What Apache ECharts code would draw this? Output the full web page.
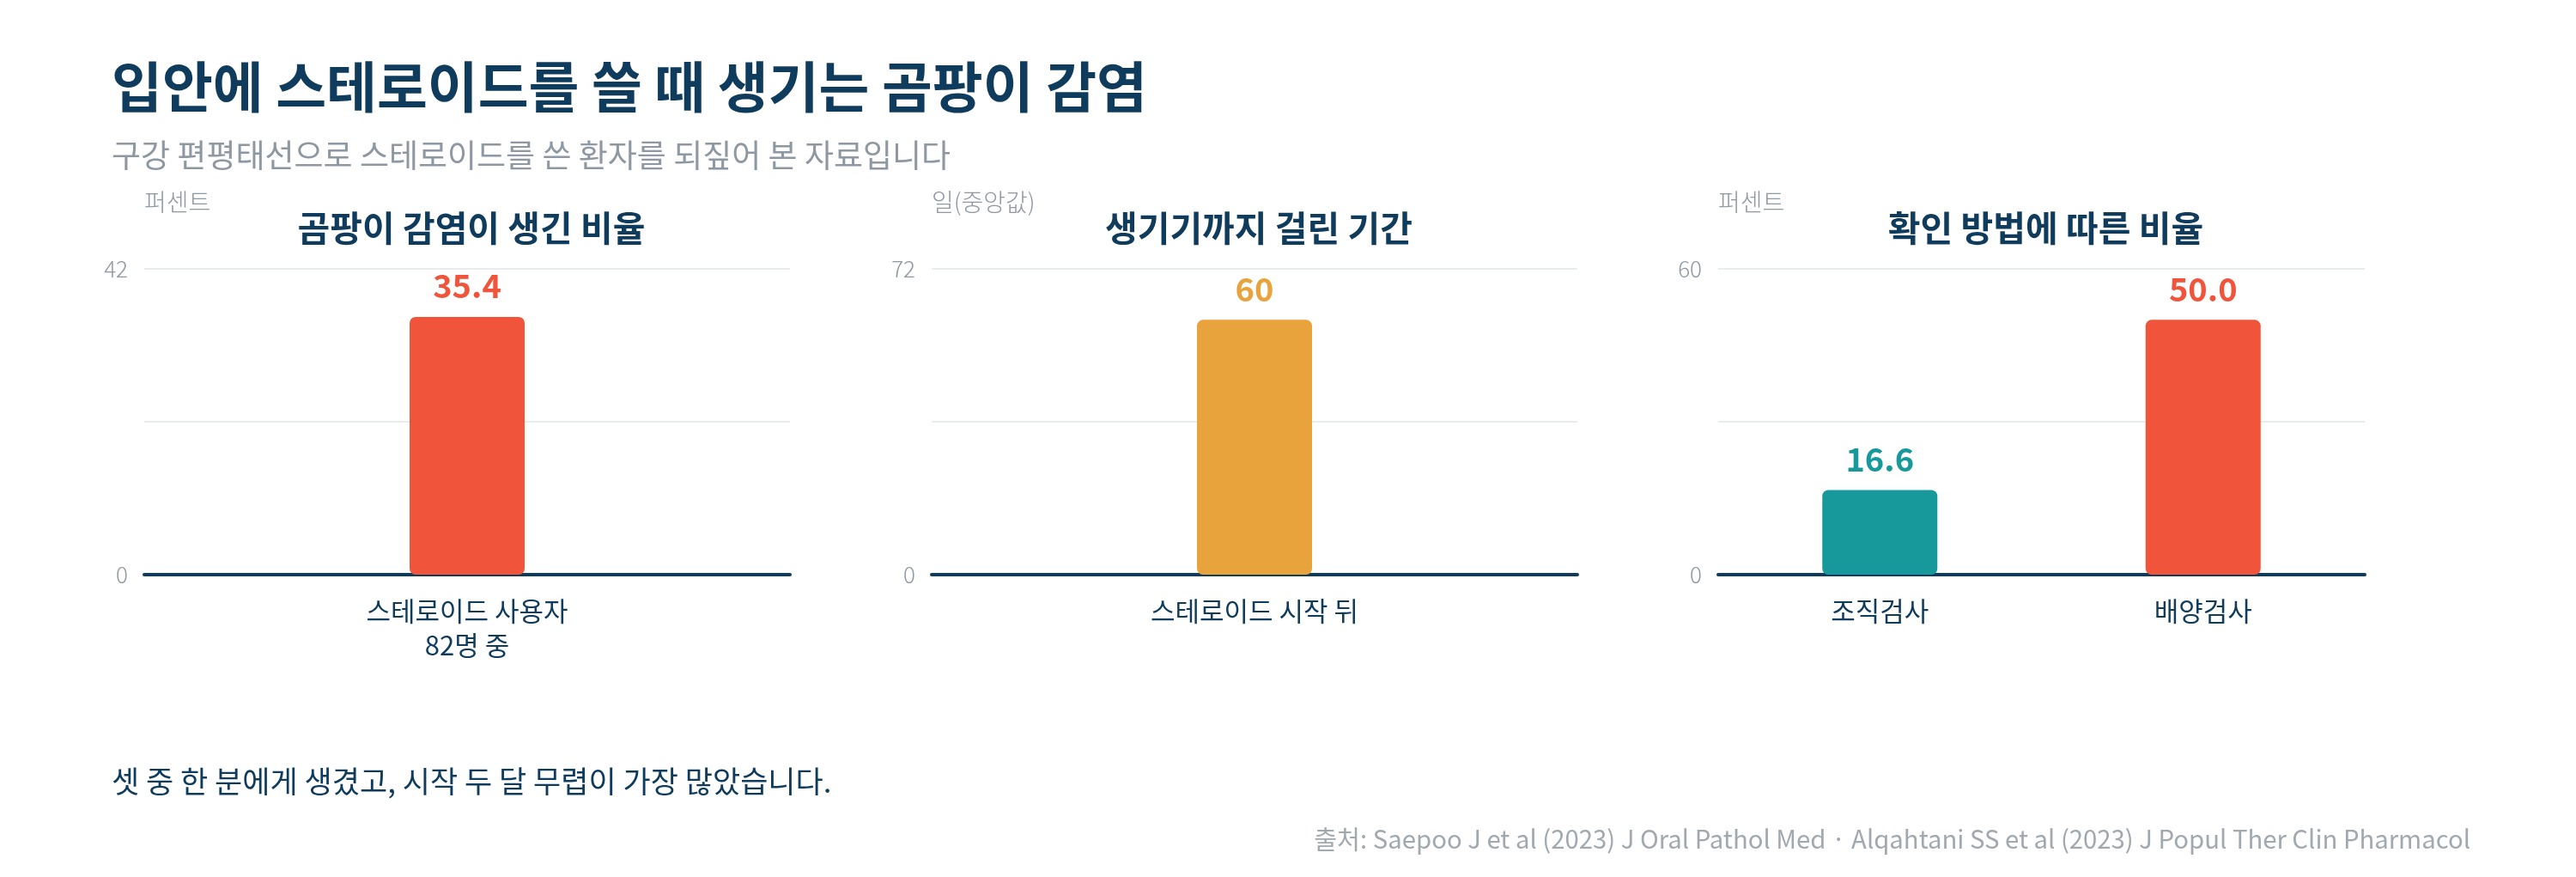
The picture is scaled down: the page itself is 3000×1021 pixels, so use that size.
<!DOCTYPE html>
<html>
<head>
    <meta charset="UTF-8">
    <title>입안에 스테로이드를 쓸 때 생기는 곰팡이 감염</title>
    <script src="https://cdn.jsdelivr.net/npm/echarts@6.0.0/dist/echarts.min.js"></script>
    <style>
        html, body { margin: 0; padding: 0; background: #fff; }
    </style>
</head>
<body>

<div id="main" style="width: 3000px;height:1021px"></div>

<script type="text/javascript">
    // 데이터
    var panelTitles = ['곰팡이 감염이 생긴 비율', '생기기까지 걸린 기간', '확인 방법에 따른 비율'];
    var unitNames = ['퍼센트', '일(중앙값)', '퍼센트'];
    var axisMax = [42, 72, 60];

    var rateCats = ['스테로이드 사용자\n82명 중'];
    var rateVals = [35.4];
    var onsetCats = ['스테로이드 시작 뒤'];
    var onsetVals = [60];
    var methodCats = ['조직검사', '배양검사'];
    var methodVals = [16.6, 50.0];

    var FONT = '"Noto Sans CJK KR", "Noto Sans", sans-serif';
    var NAVY = '#0f3b5c';
    var GRAY = '#8e98a2';
    var RED = '#f0553c';
    var ORANGE = '#e8a33c';
    var TEAL = '#17999b';

    var panels = [
        {cats: rateCats, vals: rateVals, colors: [RED], digits: 1, left: 168, width: 752},
        {cats: onsetCats, vals: onsetVals, colors: [ORANGE], digits: 0, left: 1085, width: 752},
        {cats: methodCats, vals: methodVals, colors: [TEAL, RED], digits: 1, left: 2001, width: 753}
    ];

    var myChart = echarts.init(document.getElementById('main'));

    var titles = [
        {
            text: '입안에 스테로이드를 쓸 때 생기는 곰팡이 감염',
            left: 125, top: 64,
            textStyle: {fontFamily: FONT, fontSize: 64, fontWeight: 'bold', color: NAVY}
        },
        {
            text: '구강 편평태선으로 스테로이드를 쓴 환자를 되짚어 본 자료입니다',
            left: 125, top: 157,
            textStyle: {fontFamily: FONT, fontSize: 37, fontWeight: 'normal', color: GRAY}
        },
        {
            text: '셋 중 한 분에게 생겼고, 시작 두 달 무렵이 가장 많았습니다.',
            left: 125, top: 887,
            textStyle: {fontFamily: FONT, fontSize: 35, fontWeight: 'normal', color: NAVY}
        },
        {
            text: '출처: Saepoo J et al (2023) J Oral Pathol Med · Alqahtani SS et al (2023) J Popul Ther Clin Pharmacol',
            right: 118, top: 957,
            textStyle: {fontFamily: FONT, fontSize: 29.3, fontWeight: 'normal', color: '#a0a8b0'}
        }
    ];

    var grids = [], xAxes = [], yAxes = [], series = [];
    panels.forEach(function (p, i) {
        titles.push({
            text: panelTitles[i],
            left: p.left + p.width / 2, top: 240,
            textAlign: 'center',
            textStyle: {fontFamily: FONT, fontSize: 41, fontWeight: 'bold', color: NAVY}
        });
        grids.push({left: p.left, width: p.width, top: 313, height: 356});
        xAxes.push({
            type: 'category',
            gridIndex: i,
            data: p.cats,
            axisLine: {lineStyle: {color: NAVY, width: 4}},
            axisTick: {show: false},
            axisLabel: {
                fontFamily: FONT, fontSize: 31, color: NAVY,
                margin: 22, lineHeight: 40
            }
        });
        yAxes.push({
            type: 'value',
            gridIndex: i,
            min: 0,
            max: axisMax[i],
            interval: axisMax[i] / 2,
            name: unitNames[i],
            nameLocation: 'end',
            nameGap: 64,
            nameTextStyle: {
                fontFamily: FONT, fontSize: 28, color: GRAY, align: 'left', fontWeight: 300
            },
            axisLine: {show: false},
            axisTick: {show: false},
            splitLine: {lineStyle: {color: '#e9ecef', width: 2}},
            axisLabel: {
                fontFamily: FONT, fontSize: 26, color: GRAY, fontWeight: 300, margin: 19,
                formatter: function (v) {
                    return (v === 0 || v === axisMax[i]) ? String(v) : '';
                }
            }
        });
        series.push({
            type: 'bar',
            xAxisIndex: i,
            yAxisIndex: i,
            barWidth: 134,
            data: p.vals.map(function (v, k) {
                return {
                    value: v,
                    itemStyle: {color: p.colors[k], borderRadius: 7},
                    label: {color: p.colors[k]}
                };
            }),
            label: {
                show: true,
                position: 'top',
                distance: 17,
                fontFamily: FONT,
                fontSize: 38,
                fontWeight: 'bold',
                formatter: function (d) {
                    return d.value.toFixed(p.digits);
                }
            },
            z: 1
        });
    });

    var option = {
        backgroundColor: '#fff',
        animation: false,
        title: titles,
        grid: grids,
        xAxis: xAxes,
        yAxis: yAxes,
        series: series
    };
    myChart.setOption(option);
</script>
</body>
</html>
